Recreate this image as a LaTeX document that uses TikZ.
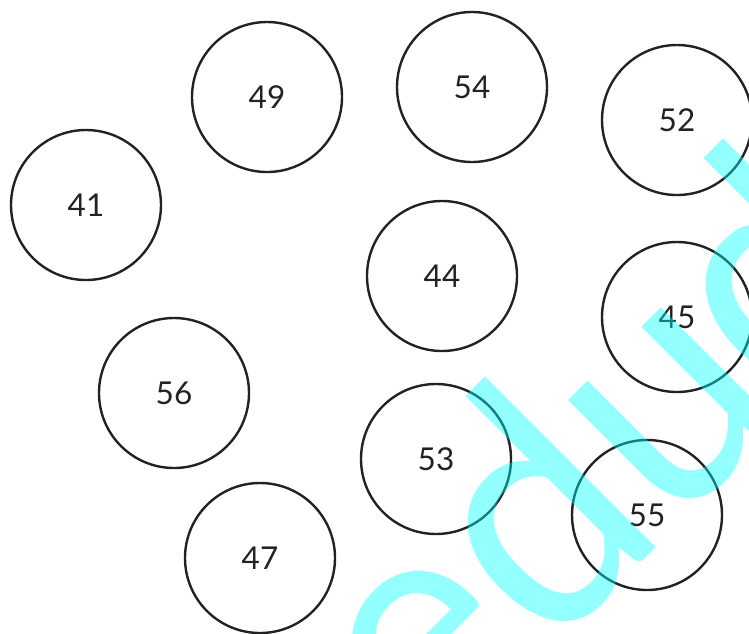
\documentclass[tikz,border=0pt]{standalone}
\usepackage{fontspec}
\setmainfont{Lato}
\definecolor{wmcol}{RGB}{0,255,255}
\definecolor{ink}{RGB}{34,34,34}
\begin{document}
\begin{tikzpicture}[x=1pt,y=-1pt,
  num/.style={circle,draw=ink,line width=2.4pt,minimum size=150pt,inner sep=0pt,
    font=\fontsize{31.5}{31.5}\selectfont,text=ink},
  wmark/.style={anchor=base west,rotate=45,xscale=0.95,text=wmcol,opacity=0.42,inner sep=0pt,
    font=\fontsize{328}{328}\selectfont}]
\useasboundingbox (0,0) rectangle (749,633);
\node[num] (n49) at (267,97) {49};
\node[num] (n54) at (472,87) {54};
\node[num] (n52) at (677,120) {52};
\node[num] (n41) at (86,205) {41};
\node[num] (n44) at (442,276) {44};
\node[num] (n45) at (677,317) {45};
\node[num] (n56) at (174,393) {56};
\node[num] (n53) at (436,459) {53};
\node[num] (n55) at (647,515) {55};
\node[num] (n47) at (260,558) {47};
\begin{scope}
\clip (0,0) rectangle (749,633);
\node[wmark] (wm) at (432,772) {edu\kern-12pt d};
\end{scope}
\end{tikzpicture}
\end{document}
